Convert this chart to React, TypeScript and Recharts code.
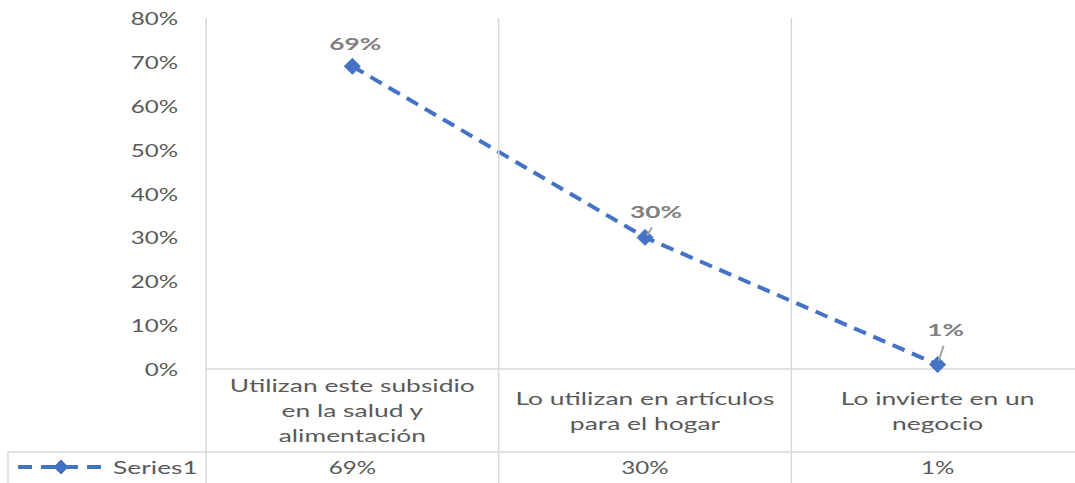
import React from 'react';
import { LineChart, Line, XAxis, YAxis, LabelList } from 'recharts';

// data
const categories = [
    ['Utilizan este subsidio', 'en la salud y', 'alimentación'],
    ['Lo utilizan en artículos', 'para el hogar'],
    ['Lo invierte en un', 'negocio'],
];
const series1 = [0.69, 0.30, 0.01];
const yTicks = [0, 0.1, 0.2, 0.3, 0.4, 0.5, 0.6, 0.7, 0.8];
const seriesName = 'Series1';

const data = series1.map((v, i) => ({ pos: i + 0.5, value: v }));
const xTicks = [0, 0.5, 1, 1.5, 2, 2.5, 3];

const W = 1084;
const H = 483;
const TOP = 18;
const AXIS_H = 114;
const ROW_H = 31;
const BLUE = '#4472C4';
const GRID = '#d9d9d9';
const TEXT = '#595959';
const FONT = 'Lato, "Open Sans", sans-serif';
const SX = 1.38;
const SX_WORDS = 1.51;
const FS = 17.5;

const pct = (v: number) => `${Math.round(v * 100)}%`;

const StretchText: React.FC<{ x: number; y: number; anchor?: string; weight?: number; fill?: string; sx?: number; children: React.ReactNode }> = ({ x, y, anchor = 'middle', weight = 400, fill = TEXT, sx = SX, children }) => (
    <g transform={`translate(${x},${y}) scale(${sx},1)`}>
        <text x={0} y={0} textAnchor={anchor as any} dominantBaseline="central" fontFamily={FONT} fontSize={FS} fontWeight={weight} fill={fill}>
            {children}
        </text>
    </g>
);

const Diamond = ({ cx, cy, r = 8 }: { cx: number; cy: number; r?: number }) => (
    <polygon points={`${cx},${cy - r} ${cx + r},${cy} ${cx},${cy + r} ${cx - r},${cy}`} fill={BLUE} stroke={BLUE} strokeWidth={1} />
);

const YTick = (props: any) => {
    const { y, payload } = props;
    return <StretchText x={178} y={y} anchor="end">{pct(payload.value)}</StretchText>;
};

const XTick = (props: any) => {
    const { x, y, payload } = props;
    const v = payload.value as number;
    const tableTop = y;
    const rowTop = H - ROW_H;
    if (Number.isInteger(v)) {
        return (
            <g>
                <line x1={x} y1={TOP} x2={x} y2={H} stroke={GRID} strokeWidth={1.5} />
                {v === 0 && (
                    <g>
                        <line x1={8} y1={rowTop} x2={W} y2={rowTop} stroke={GRID} strokeWidth={1.5} />
                        <line x1={8} y1={rowTop} x2={8} y2={H} stroke={GRID} strokeWidth={1.5} />
                        <line x1={18} y1={rowTop + 15} x2={104} y2={rowTop + 15} stroke={BLUE} strokeWidth={4} strokeDasharray="14 9" />
                        <Diamond cx={61} cy={rowTop + 15} r={7} />
                        <StretchText x={113} y={rowTop + 15} anchor="start" sx={SX_WORDS}>{seriesName}</StretchText>
                    </g>
                )}
            </g>
        );
    }
    const i = Math.floor(v);
    const lines = categories[i];
    const mid = (tableTop + rowTop) / 2;
    return (
        <g>
            {lines.map((t, k) => (
                <StretchText key={k} x={x} y={mid + (k - (lines.length - 1) / 2) * 25} sx={SX_WORDS}>{t}</StretchText>
            ))}
            <StretchText x={x} y={rowTop + 15}>{pct(series1[i])}</StretchText>
        </g>
    );
};

const labelOffsets = [
    { dx: 3, dy: -23, lead: null },
    { dx: 11, dy: -26, lead: [2, -2, 7, -10] },
    { dx: 8, dy: -35, lead: [1, -4, 6, -19] },
];

const renderLabel = (props: any) => {
    const { x, y, value, index } = props;
    const o = labelOffsets[index];
    return (
        <g key={`lbl-${index}`}>
            {o.lead && <line x1={x + o.lead[0]} y1={y + o.lead[1]} x2={x + o.lead[2]} y2={y + o.lead[3]} stroke="#a6a6a6" strokeWidth={2} />}
            <StretchText x={x + o.dx} y={y + o.dy} weight={700} fill="#7f7f7f" sx={1.5}>{pct(value)}</StretchText>
        </g>
    );
};

export default function App() {
    return (
        <div style={{ position: 'absolute', left: 0, top: 0, width: 1075, height: H, overflow: 'hidden', background: '#fff' }}>
            <LineChart width={W} height={H} data={data} margin={{ top: TOP, right: 0, left: 0, bottom: 0 }}>
                <XAxis
                    dataKey="pos"
                    type="number"
                    domain={[0, 3]}
                    ticks={xTicks}
                    interval={0}
                    height={AXIS_H}
                    tickLine={false}
                    tickSize={0}
                    tickMargin={0}
                    axisLine={{ stroke: GRID, strokeWidth: 1.5 }}
                    tick={XTick}
                />
                <YAxis
                    type="number"
                    domain={[0, 0.8]}
                    ticks={yTicks}
                    interval={0}
                    width={206}
                    axisLine={false}
                    tickLine={false}
                    tick={YTick}
                />
                <Line
                    dataKey="value"
                    type="linear"
                    stroke={BLUE}
                    strokeWidth={4}
                    strokeDasharray="13 8"
                    dot={(p: any) => <Diamond key={`dot-${p.index}`} cx={p.cx} cy={p.cy} />}
                    activeDot={false}
                    isAnimationActive={false}
                >
                    <LabelList dataKey="value" content={renderLabel} />
                </Line>
            </LineChart>
        </div>
    );
}
